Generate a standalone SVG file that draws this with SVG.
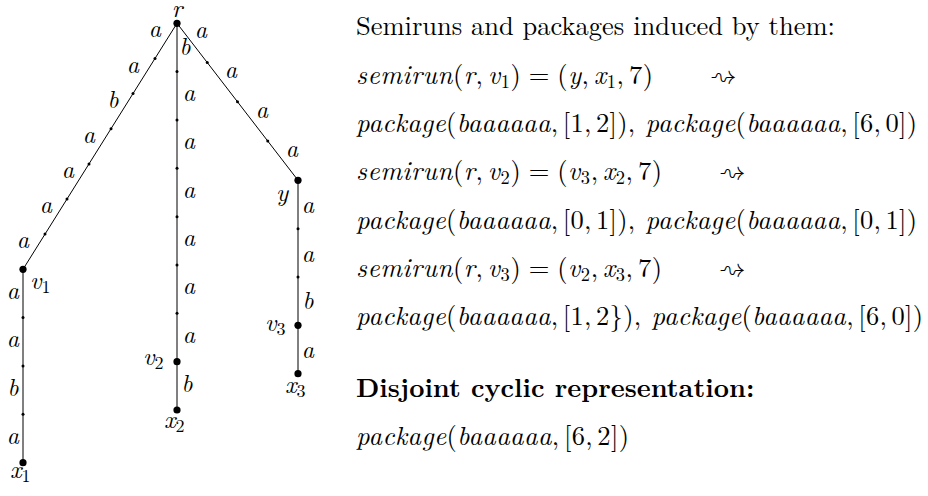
<svg xmlns="http://www.w3.org/2000/svg" width="928" height="496" viewBox="0 0 928 496">
<style>
text{font-family:'Latin Modern Roman','Times New Roman',serif;fill:#000}
.l{font-size:24px;font-style:italic;text-anchor:middle}
.n{font-size:25px;font-style:italic}
.m{font-size:26.5px;font-style:italic}
.u{font-style:normal}
.s{font-size:18.5px;font-style:normal}
.ns{font-size:18px;font-style:normal}
.b{font-size:26.5px;font-weight:bold}
.ar{font-family:'Latin Modern Math','DejaVu Sans',sans-serif;font-size:26.5px}
.e{fill:none;stroke:#000;stroke-width:1}
.big{fill:#000}
.sm{fill:#000}
</style>
<rect width="928" height="496" fill="#fff"/>
<g id="connectors">
<path class="e" d="M177,23.3 L23,269.3 L23,462.7"/>
<path class="e" d="M177,23.3 L177,410"/>
<path class="e" d="M177,23.3 L298,180.3 L298,373.7"/>
<g id="edge-labels">
<text class="l" x="155" y="37">a</text>
<text class="l" x="133" y="73">a</text>
<text class="l" x="113" y="108">b</text>
<text class="l" x="89" y="143">a</text>
<text class="l" x="68" y="178">a</text>
<text class="l" x="46" y="213">a</text>
<text class="l" x="23" y="248">a</text>
<text class="l" x="13" y="298.5">a</text>
<text class="l" x="13" y="347">a</text>
<text class="l" x="13" y="396">b</text>
<text class="l" x="13" y="444">a</text>
<text class="l" x="185" y="55">b</text>
<text class="l" x="189" y="101">a</text>
<text class="l" x="189" y="149">a</text>
<text class="l" x="189" y="197.5">a</text>
<text class="l" x="189" y="246">a</text>
<text class="l" x="189" y="294">a</text>
<text class="l" x="189" y="342.5">a</text>
<text class="l" x="187" y="392">b</text>
<text class="l" x="201" y="38">a</text>
<text class="l" x="231" y="78">a</text>
<text class="l" x="262" y="118">a</text>
<text class="l" x="292" y="157">a</text>
<text class="l" x="308" y="213">a</text>
<text class="l" x="308" y="262">a</text>
<text class="l" x="308" y="309">b</text>
<text class="l" x="308" y="358">a</text>
</g>
</g>
<g id="inner-points">
<circle class="sm" cx="155" cy="58.4" r="1.5"/>
<circle class="sm" cx="133" cy="93.6" r="1.5"/>
<circle class="sm" cx="111" cy="128.7" r="1.5"/>
<circle class="sm" cx="89" cy="163.9" r="1.5"/>
<circle class="sm" cx="67" cy="199" r="1.5"/>
<circle class="sm" cx="45" cy="234.1" r="1.5"/>
<circle class="sm" cx="23" cy="317.6" r="1.5"/>
<circle class="sm" cx="23" cy="366" r="1.5"/>
<circle class="sm" cx="23" cy="414.3" r="1.5"/>
<circle class="sm" cx="177" cy="71.6" r="1.5"/>
<circle class="sm" cx="177" cy="120" r="1.5"/>
<circle class="sm" cx="177" cy="168.3" r="1.5"/>
<circle class="sm" cx="177" cy="216.7" r="1.5"/>
<circle class="sm" cx="177" cy="265" r="1.5"/>
<circle class="sm" cx="177" cy="313.3" r="1.5"/>
<circle class="sm" cx="207.25" cy="62.6" r="1.5"/>
<circle class="sm" cx="237.5" cy="101.8" r="1.5"/>
<circle class="sm" cx="267.75" cy="141" r="1.5"/>
<circle class="sm" cx="298" cy="228.7" r="1.5"/>
<circle class="sm" cx="298" cy="277" r="1.5"/>
</g>
<g id="node-r"><circle class="big" cx="177" cy="23.3" r="3.6"/><text class="n" x="177" y="17" text-anchor="middle">r</text></g>
<g id="node-y"><circle class="big" cx="298" cy="180.3" r="3.6"/><text class="n" x="282" y="201" text-anchor="middle">y</text></g>
<g id="node-v1"><circle class="big" cx="23" cy="269.3" r="3.6"/><text class="n" x="30" y="289">v<tspan class="ns" dy="4">1</tspan></text></g>
<g id="node-x1"><circle class="big" cx="23" cy="462.7" r="3.6"/><text class="n" x="10" y="478">x<tspan class="ns" dy="4">1</tspan></text></g>
<g id="node-v2"><circle class="big" cx="177" cy="361.7" r="3.6"/><text class="n" x="143" y="365">v<tspan class="ns" dy="4">2</tspan></text></g>
<g id="node-x2"><circle class="big" cx="177" cy="410" r="3.6"/><text class="n" x="164" y="428">x<tspan class="ns" dy="4">2</tspan></text></g>
<g id="node-v3"><circle class="big" cx="298" cy="325.3" r="3.6"/><text class="n" x="265" y="331">v<tspan class="ns" dy="4">3</tspan></text></g>
<g id="node-x3"><circle class="big" cx="298" cy="373.7" r="3.6"/><text class="n" x="285" y="393">x<tspan class="ns" dy="4">3</tspan></text></g>
<g id="text-panel">
<text class="m u" x="356" y="34.5">Semiruns and packages induced by them:</text>
<text class="m" x="356" y="83.5" textLength="297" lengthAdjust="spacing">semirun<tspan class="u">(</tspan>r<tspan class="u">,</tspan><tspan dx="4.4">v</tspan><tspan class="s" dy="4">1</tspan><tspan class="u" dy="-4">)</tspan><tspan class="u" dx="7.4">=</tspan><tspan class="u" dx="7.4">(</tspan>y<tspan class="u">,</tspan><tspan dx="4.4">x</tspan><tspan class="s" dy="4">1</tspan><tspan class="u" dy="-4">,</tspan><tspan class="u" dx="4.4">7)</tspan></text>
<text class="ar" x="710" y="83.5">⇝</text>
<text class="m" x="356" y="132" textLength="561" lengthAdjust="spacing">package<tspan class="u">(</tspan>baaaaaa<tspan class="u">,</tspan><tspan class="u" dx="4.4">[1,</tspan><tspan class="u" dx="4.4">2]),</tspan><tspan dx="10">package</tspan><tspan class="u">(</tspan>baaaaaa<tspan class="u">,</tspan><tspan class="u" dx="4.4">[6,</tspan><tspan class="u" dx="4.4">0])</tspan></text>
<text class="m" x="356" y="180" textLength="306" lengthAdjust="spacing">semirun<tspan class="u">(</tspan>r<tspan class="u">,</tspan><tspan dx="4.4">v</tspan><tspan class="s" dy="4">2</tspan><tspan class="u" dy="-4">)</tspan><tspan class="u" dx="7.4">=</tspan><tspan class="u" dx="7.4">(</tspan>v<tspan class="s" dy="4">3</tspan><tspan class="u" dy="-4">,</tspan><tspan dx="4.4">x</tspan><tspan class="s" dy="4">2</tspan><tspan class="u" dy="-4">,</tspan><tspan class="u" dx="4.4">7)</tspan></text>
<text class="ar" x="719" y="180">⇝</text>
<text class="m" x="356" y="228.5" textLength="561" lengthAdjust="spacing">package<tspan class="u">(</tspan>baaaaaa<tspan class="u">,</tspan><tspan class="u" dx="4.4">[0,</tspan><tspan class="u" dx="4.4">1]),</tspan><tspan dx="10">package</tspan><tspan class="u">(</tspan>baaaaaa<tspan class="u">,</tspan><tspan class="u" dx="4.4">[0,</tspan><tspan class="u" dx="4.4">1])</tspan></text>
<text class="m" x="356" y="276.5" textLength="306" lengthAdjust="spacing">semirun<tspan class="u">(</tspan>r<tspan class="u">,</tspan><tspan dx="4.4">v</tspan><tspan class="s" dy="4">3</tspan><tspan class="u" dy="-4">)</tspan><tspan class="u" dx="7.4">=</tspan><tspan class="u" dx="7.4">(</tspan>v<tspan class="s" dy="4">2</tspan><tspan class="u" dy="-4">,</tspan><tspan dx="4.4">x</tspan><tspan class="s" dy="4">3</tspan><tspan class="u" dy="-4">,</tspan><tspan class="u" dx="4.4">7)</tspan></text>
<text class="ar" x="719" y="276.5">⇝</text>
<text class="m" x="356" y="324.5" textLength="567" lengthAdjust="spacing">package<tspan class="u">(</tspan>baaaaaa<tspan class="u">,</tspan><tspan class="u" dx="4.4">[1,</tspan><tspan class="u" dx="4.4">2}),</tspan><tspan dx="10">package</tspan><tspan class="u">(</tspan>baaaaaa<tspan class="u">,</tspan><tspan class="u" dx="4.4">[6,</tspan><tspan class="u" dx="4.4">0])</tspan></text>
<text class="b" x="356" y="397">Disjoint cyclic representation:</text>
<text class="m" x="356" y="445" textLength="273" lengthAdjust="spacing">package<tspan class="u">(</tspan>baaaaaa<tspan class="u">,</tspan><tspan class="u" dx="4.4">[6,</tspan><tspan class="u" dx="4.4">2])</tspan></text>
</g>
</svg>
